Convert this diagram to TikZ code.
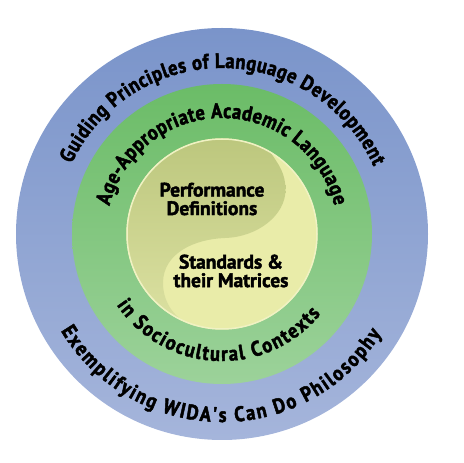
\documentclass[tikz,border=0pt]{standalone}
\usepackage{fontspec}
\setmainfont{PT Sans}
\newfontfamily\heavyfont{PT Sans Bold}[FakeBold=2.2]
\newfontfamily\ringheavy{PT Sans Bold}[FakeBold=2.2, FakeStretch=0.88]
\usetikzlibrary{calc,decorations.text}

\definecolor{ringblue}{HTML}{7A94CA}
\definecolor{ringbluelight}{HTML}{A5B5DB}
\definecolor{ringgreen}{HTML}{6BBC67}
\definecolor{ringgreenlight}{HTML}{9CD29A}
\definecolor{coreolive}{HTML}{BAC57B}
\definecolor{coreolivelight}{HTML}{DCE1A2}
\definecolor{coreyellow}{HTML}{E9ECA9}

\newcommand{\ringfont}{\fontsize{21}{21}\selectfont\ringheavy}
\tikzset{
  ringtext/.style={decorate, decoration={text along path, text align=fit to path, text={|\ringfont|#1}}},
  coretext/.style={align=center, font=\fontsize{19.5}{18.5}\selectfont\heavyfont}
}

\begin{document}
\begin{tikzpicture}[x=1pt,y=1pt]
  \useasboundingbox (0,0) rectangle (463,463);
  \coordinate (c) at (222,229);
  % rings
  \shade[top color=ringblue, bottom color=ringbluelight] (c) circle[radius=206];
  \shade[top color=ringgreen, bottom color=ringgreenlight] (c) circle[radius=150];
  % core, two halves
  \fill[coreyellow] (c) circle[radius=95.5];
  \shade[top color=coreolive, middle color=coreolive, bottom color=coreolivelight]
    ($(c)+(60:95.5)$) arc[start angle=60, end angle=255, radius=95.5]
    .. controls (178,140) and (163,158) .. (163,180)
    .. controls (163,210) and (195,224) .. (225,225)
    .. controls (258,226) and (285.5,248) .. (285.5,273)
    .. controls (285.5,290) and (279,298) .. ($(c)+(60:95.5)$) -- cycle;
  \draw[coreyellow!70!white, line width=1.5] (c) circle[radius=95];
  % curved labels
  \path[ringtext={Guiding Principles of Language Development}]
    ($(c)+(155:166)$) arc[start angle=155, end angle=24, radius=166];
  \path[ringtext={Exemplifying WIDA's Can Do Philosophy}]
    ($(c)+(211:188)$) arc[start angle=211, end angle=328, radius=188];
  \path[ringtext={Age-Appropriate Academic Language}]
    ($(c)+(166:116)$) arc[start angle=166, end angle=14, radius=116];
  \path[ringtext={in Sociocultural Contexts}]
    ($(c)+(214:127)$) arc[start angle=214, end angle=321, radius=127];
  \node[coretext] (perf) at (212,264) {Performance\\Definitions};
  \node[coretext] (stds) at (231,192) {Standards \&\\their Matrices};
\end{tikzpicture}
\end{document}
